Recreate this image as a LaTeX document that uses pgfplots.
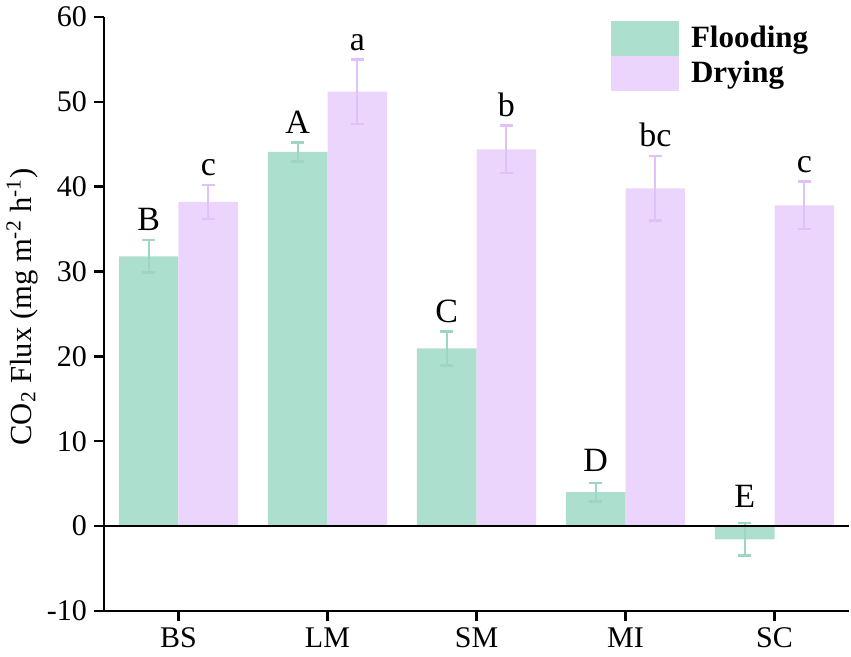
\documentclass[border=0pt]{standalone}
\usepackage{fontspec}
\setmainfont{Liberation Serif}
\usepackage{pgfplots}
\pgfplotsset{compat=1.18}
\usepackage{pgfplotstable}
\usetikzlibrary{calc}

\definecolor{floodc}{RGB}{173,223,207}
\definecolor{dryc}{RGB}{236,213,252}
\definecolor{floodE}{RGB}{158,214,194}
\definecolor{dryE}{RGB}{224,194,250}

\pgfplotstableread{
x  f      fe   d     de
0  31.8   1.9  38.2  2.0
1  44.1   1.1  51.2  3.8
2  20.95  2.0  44.4  2.8
3  4.0    1.1  39.8  3.8
4  -1.55  1.9  37.8  2.8
}\data

\begin{document}
\begin{tikzpicture}
\begin{axis}[
  scale only axis,
  width=372.5pt, height=297pt,
  xmin=-0.5, xmax=4.5, ymin=-10, ymax=60,
  xtick={0,1,2,3,4},
  xticklabels={BS,LM,SM,MI,SC},
  ytick={-10,0,10,20,30,40,50,60},
  axis x line*=bottom, axis y line*=left,
  axis line style={line width=1.2pt, black, -},
  tick align=outside,
  major tick length=5pt,
  tick style={black, line width=1.2pt},
  /pgf/number format/assume math mode=true,
  tick label style={font=\fontsize{15}{18}\selectfont},
  ylabel={CO\textsubscript{2} Flux (mg m\textsuperscript{-2} h\textsuperscript{-1})},
  ylabel style={font=\fontsize{15.3}{18}\selectfont, at={(axis description cs:-0.11,0.512)}, anchor=center},
  legend style={draw=none, fill=none, at={(axis cs:2.9,59.6)}, anchor=north west,
    inner sep=0pt, row sep=0pt,
    font=\bfseries\fontsize{15.5}{18}\selectfont,
    nodes={inner sep=0pt}},
  legend cell align=left,
  /tikz/every odd column/.append style={column sep=6pt},
]
\addplot[ybar, bar width=0.4, bar shift=0, fill=floodc, draw=none,
  legend image code/.code={\fill[floodc] (0pt,-8.75pt) rectangle (34pt,8.75pt);},
  error bars/.cd, y dir=both, y explicit,
  error bar style={line width=1pt, draw=floodE},
  error mark options={rotate=90, mark size=3.3pt, line width=1.3pt, draw=floodE}]
  table[x expr=\thisrow{x}-0.2, y=f, y error=fe] {\data};
\addlegendentry{Flooding}
\addplot[ybar, bar width=0.4, bar shift=0, fill=dryc, draw=none,
  legend image code/.code={\fill[dryc] (0pt,-8.75pt) rectangle (34pt,8.75pt);},
  error bars/.cd, y dir=both, y explicit,
  error bar style={line width=1pt, draw=dryE},
  error mark options={rotate=90, mark size=3.3pt, line width=1.3pt, draw=dryE}]
  table[x expr=\thisrow{x}+0.2, y=d, y error=de] {\data};
\addlegendentry{Drying}
\addplot[black, line width=1.2pt, forget plot] coordinates {(-0.5,0) (4.5,0)};
\begin{scope}[every node/.style={anchor=base, inner sep=0pt, font=\fontsize{17}{20}\selectfont}]
\node at (axis cs:-0.2,34.8) {B};
\node at (axis cs:0.2,41.3) {c};
\node at (axis cs:0.8,46.3) {A};
\node at (axis cs:1.2,56.1) {a};
\node at (axis cs:1.8,24.0) {C};
\node at (axis cs:2.2,48.3) {b};
\node at (axis cs:2.8,6.4) {D};
\node at (axis cs:3.2,44.7) {bc};
\node at (axis cs:3.8,2.2) {E};
\node at (axis cs:4.2,41.7) {c};
\end{scope}
\end{axis}
\pgfresetboundingbox
\path ($(current axis.south west)+(-52pt,-23pt)$) rectangle ($(current axis.north east)+(1pt,8.5pt)$);
\end{tikzpicture}
\end{document}
